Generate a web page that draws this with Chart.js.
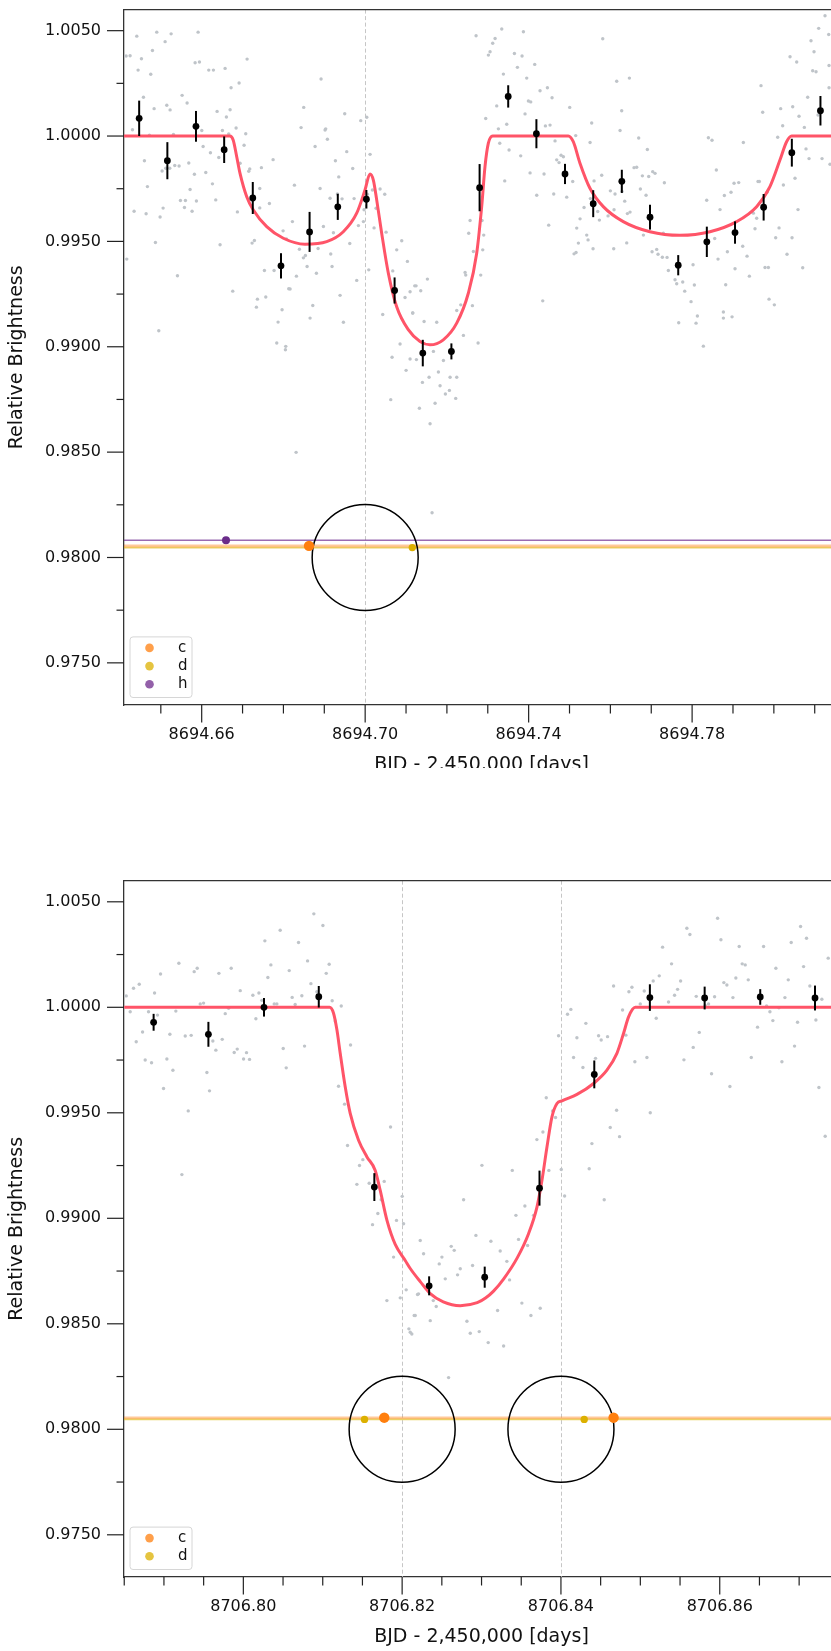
<!DOCTYPE html>
<html>
<head>
<meta charset="utf-8">
<script src="https://cdn.jsdelivr.net/npm/chart.js@4.4.1/dist/chart.umd.min.js"></script>
<style>
  html, body { margin: 0; padding: 0; background: #fff; overflow: hidden; }
  #page { position: relative; width: 831px; height: 1651px; overflow: hidden; }
  #topWrap { position: absolute; left: 0; top: 0; width: 831px; height: 768px; overflow: hidden; }
  #bottomWrap { position: absolute; left: 0; top: 860px; width: 831px; height: 791px; overflow: hidden; }
  canvas { display: block; }
</style>
</head>
<body>
<div id="page">
  <div id="topWrap"><canvas id="topChart" width="850" height="779"></canvas></div>
  <div id="bottomWrap"><canvas id="bottomChart" width="850" height="791"></canvas></div>
</div>
<script>
// ---- axes ----
const Y_MIN = 0.9730, Y_MAX = 1.0060;
const yMajorTicks = [0.975, 0.980, 0.985, 0.990, 0.995, 1.000, 1.005];
const yMinorTicks = [0.9775, 0.9825, 0.9875, 0.9925, 0.9975, 1.0025];

const topXRange = [8694.64099, 8694.81594];
const topXMajorTicks = [8694.66, 8694.70, 8694.74, 8694.78];
const topXMinorTicks = [8694.65, 8694.67, 8694.68, 8694.69, 8694.71, 8694.72, 8694.73,
                        8694.75, 8694.76, 8694.77, 8694.79, 8694.80, 8694.81];

const bottomXRange = [8706.78497, 8706.87502];
const bottomXMajorTicks = [8706.80, 8706.82, 8706.84, 8706.86];
const bottomXMinorTicks = [8706.785, 8706.79, 8706.795, 8706.805, 8706.81, 8706.815, 8706.825,
                           8706.83, 8706.835, 8706.845, 8706.85, 8706.855, 8706.865, 8706.87];

// ---- planets ----
const planetLevel = { c: 0.98055, d: 0.98047, h: 0.98082 };
const planetColor = { c: '#ff7f0e', d: '#dcb000', h: '#6a2c8a' };
const planetLegendColor = { c: '#ff9f4a', d: '#e5c440', h: '#9360a9' };
const planetRadius = { c: 5.2, d: 3.7, h: 4 };
const topPlanetTimes = { c: [8694.68626], d: [8694.71153], h: [8694.66595] };
const bottomPlanetTimes = { c: [8706.81775, 8706.84663], d: [8706.81526, 8706.84293] };

// mid-transit markers (dashed line + stellar disc outline)
const STAR_LEVEL = 0.9800;
const topMidTimes = [8694.70];
const bottomMidTimes = [8706.82, 8706.84];

// ---- 10-minute bins ----
const topBinTimes = [8694.6447, 8694.6516, 8694.6586, 8694.6655, 8694.6725, 8694.6794, 8694.6864,
  8694.6933, 8694.7003, 8694.7072, 8694.7141, 8694.7211, 8694.7280, 8694.7350, 8694.7419, 8694.7489,
  8694.7558, 8694.7628, 8694.7697, 8694.7766, 8694.7836, 8694.7905, 8694.7975, 8694.8044, 8694.8114];
const topBinFlux = [1.00084, 0.99883, 1.00046, 0.99935, 0.99706, 0.99384, 0.99545, 0.99664, 0.99700,
  0.99267, 0.98970, 0.98978, 0.99755, 1.00188, 1.00011, 0.99820, 0.99679, 0.99785, 0.99615, 0.99387,
  0.99498, 0.99542, 0.99662, 0.99921, 1.00120];
const topBinErr = [0.00084, 0.00088, 0.00073, 0.00063, 0.00076, 0.00060, 0.00095, 0.00062, 0.00044,
  0.00062, 0.00063, 0.00038, 0.00112, 0.00053, 0.00069, 0.00048, 0.00064, 0.00055, 0.00059, 0.00048,
  0.00072, 0.00053, 0.00063, 0.00066, 0.00070];

const bottomBinTimes = [8706.7887, 8706.7956, 8706.8026, 8706.8095, 8706.8165, 8706.8234, 8706.8304,
  8706.8373, 8706.8442, 8706.8512, 8706.8581, 8706.8651, 8706.8720];
const bottomBinFlux = [0.99929, 0.99872, 1.00000, 1.00050, 0.99148, 0.98680, 0.98721, 0.99143,
  0.99682, 1.00046, 1.00044, 1.00049, 1.00044];
const bottomBinErr = [0.00040, 0.00059, 0.00044, 0.00051, 0.00066, 0.00045, 0.00050, 0.00083,
  0.00066, 0.00063, 0.00054, 0.00037, 0.00059];

// ---- transit models [time, flux] ----
const topModel = [[8694.6410, 1.0], [8694.6669, 1.0], [8694.6677, 0.99981], [8694.66857, 0.99902],
  [8694.66938, 0.99823], [8694.67102, 0.99712], [8694.67263, 0.99649], [8694.67591, 0.99570],
  [8694.67998, 0.99515], [8694.68528, 0.99487], [8694.69059, 0.99499], [8694.69465, 0.99546],
  [8694.69793, 0.99634], [8694.69996, 0.99744], [8694.70118, 0.99820], [8694.70200, 0.99791],
  [8694.70282, 0.99697], [8694.70404, 0.99539], [8694.70567, 0.99349], [8694.70769, 0.99191],
  [8694.71055, 0.99081], [8694.71342, 0.99025], [8694.71586, 0.99009], [8694.71912, 0.99033],
  [8694.72240, 0.99112], [8694.72524, 0.99254], [8694.72729, 0.99444], [8694.72851, 0.99665],
  [8694.72932, 0.99855], [8694.73013, 0.99965], [8694.7312, 1.0], [8694.7497, 1.0],
  [8694.75092, 0.99973], [8694.75256, 0.99871], [8694.75500, 0.99752], [8694.75826, 0.99665],
  [8694.76315, 0.99594], [8694.76968, 0.99546], [8694.77702, 0.99529], [8694.78436, 0.99546],
  [8694.79089, 0.99594], [8694.79578, 0.99665], [8694.79904, 0.99760], [8694.80149, 0.99886],
  [8694.80312, 0.99973], [8694.80435, 1.0], [8694.8160, 1.0]];

const bottomModel = [[8706.785, 1.0], [8706.81086, 1.0], [8706.81136, 0.99972], [8706.81179, 0.99892],
  [8706.81220, 0.99782], [8706.81283, 0.99623], [8706.81346, 0.99497], [8706.81451, 0.99370],
  [8706.81557, 0.99291], [8706.81661, 0.99227], [8706.81724, 0.99132], [8706.81809, 0.98990],
  [8706.81913, 0.98876], [8706.82039, 0.98800], [8706.82102, 0.98762], [8706.82228, 0.98700],
  [8706.82354, 0.98643], [8706.82518, 0.98604], [8706.82732, 0.98586], [8706.82946, 0.98600],
  [8706.83050, 0.98622], [8706.83151, 0.98655], [8706.83277, 0.98712], [8706.83446, 0.98810],
  [8706.83592, 0.98927], [8706.83698, 0.99053], [8706.83761, 0.99180], [8706.83824, 0.99338],
  [8706.83887, 0.99481], [8706.83950, 0.99544], [8706.84013, 0.99557], [8706.84202, 0.99587],
  [8706.84411, 0.99639], [8706.84579, 0.99702], [8706.84705, 0.99782], [8706.84789, 0.99877],
  [8706.84852, 0.99955], [8706.84936, 1.0], [8706.8755, 1.0]];

// ---- unbinned photometry, [days after T0, flux] ----
const TOP_T0 = 8694.6;
const topRaw = [
  [0.04151,1.00380],[0.04248,1.00381],[0.04412,1.00474],[0.04444,1.00313],[0.04526,1.00367],[0.04575,1.00184],
  [0.04795,1.00406],[0.04901,1.00493],[0.04754,1.00293],[0.05105,1.00448],[0.05146,1.00146],[0.05252,1.00485],
  [0.05227,1.00124],[0.05309,1.00007],[0.05521,1.00193],[0.05643,1.00157],[0.05839,1.00348],[0.05945,1.00351],
  [0.05912,1.00493],[0.06173,1.00313],[0.06287,1.00313],[0.06573,1.00321],[0.06719,1.00229],[0.06915,1.00252],
  [0.07111,1.00365],
  [0.04167,0.99416],[0.04306,1.00030],[0.04346,0.99643],[0.04599,0.99883],[0.04672,0.99760],[0.04640,0.99631],
  [0.04721,1.00004],[0.04836,1.00130],[0.04868,0.99495],[0.04950,0.99076],[0.04982,0.99616],[0.05056,0.99658],
  [0.05031,0.99834],[0.05121,0.99847],[0.05219,0.99847],[0.05341,0.99860],[0.05407,0.99337],[0.05447,0.99858],
  [0.05578,0.99661],[0.05480,0.99694],[0.05602,0.99694],[0.05716,0.99746],[0.05684,0.99872],[0.05765,0.99643],
  [0.05871,0.99692],[0.05822,0.99819],[0.06002,1.00026],[0.06035,0.99950],[0.06100,0.99827],[0.06214,0.99921],
  [0.06263,0.99773],[0.06344,0.99697],[0.06377,1.00117],[0.06450,0.99484],[0.06418,0.99898],[0.06605,1.00090],
  [0.06695,1.00125],[0.06507,1.00026],[0.06662,1.00010],[0.06760,0.99264],[0.06842,1.00038],[0.06874,0.99640],
  [0.06940,0.99871],[0.07037,0.99956],[0.07078,1.00011],[0.07176,0.99844],[0.07152,0.99833],[0.07233,0.99492],
  [0.07290,0.99504],[0.07339,0.99188],[0.07364,0.99226],[0.07421,0.99751],[0.07461,0.99850],[0.07421,0.99659],
  [0.07535,0.99362],[0.07568,0.99236],[0.07657,0.99680],[0.07747,0.99888],[0.07771,0.99362],[0.07869,0.99117],
  [0.07967,0.99176],[0.07992,0.99550],[0.08057,0.99002],[0.07837,0.99018],[0.08049,0.98986],[0.08073,0.99512],
  [0.08220,0.99594],[0.08130,0.99275],[0.08163,0.99274],[0.08269,0.99767],[0.08318,0.99335],[0.08391,0.99463],
  [0.08432,1.00040],[0.08497,1.00136],[0.08489,0.99422],[0.08538,0.99433],[0.08579,0.99381],[0.08652,0.99136],
  [0.08718,0.99196],[0.08775,0.99950],[0.08807,0.99349],[0.08848,0.99466],[0.08921,1.00271],[0.08897,0.99751],
  [0.08978,0.99571],[0.09019,1.00029],[0.09035,1.00034],[0.09076,0.99985],[0.09141,0.99705],[0.09190,0.99381],
  [0.09223,0.99541],[0.09158,0.99440],[0.09272,0.99883],[0.09321,0.99725],[0.09354,0.99806],[0.09386,0.99244],
  [0.09435,0.99702],[0.09468,0.99116],[0.09500,1.00106],[0.09549,0.99926],[0.09623,0.99490],[0.09696,0.99846],
  [0.09729,0.99703],[0.09794,0.99315],[0.09835,0.99575],[0.09892,1.00073],[0.09957,0.99594],[0.09973,0.99650],
  [0.10039,1.00089],[0.10055,0.99724],[0.10088,0.99365],[0.10120,0.99913],[0.10177,0.99744],[0.10218,0.99564],
  [0.10267,0.99657],[0.10365,0.99749],[0.10479,0.99724],[0.10512,0.99544],[0.10430,0.99153],[0.10658,0.98950],
  [0.10675,0.99360],[0.10772,0.99460],[0.10854,0.99013],[0.10895,0.99503],[0.10976,0.99234],[0.11033,0.99405],
  [0.11099,0.99261],[0.11001,0.98888],[0.11164,0.99160],[0.11245,0.99289],[0.10626,0.98749],
  [0.08310,0.98499],[0.11588,0.98635],[0.11637,0.98212],
  [0.12714,1.00476],[0.13056,1.00400],[0.13015,1.00384],[0.13121,1.00440],[0.13179,1.00463],[0.13342,1.00508],
  [0.13872,1.00495],[0.13652,1.00392],[0.13725,1.00326],[0.13839,1.00380],[0.13382,1.00294],[0.14149,1.00340],
  [0.13953,1.00275],[0.14279,1.00215],[0.14459,1.00229],[0.14573,1.00182],[0.13994,1.00166],[0.14051,1.00162],
  [0.13219,1.00143],[0.12950,1.00083],[0.13260,1.00034],[0.13464,1.00056],[0.13521,0.99934],[0.13293,0.99966],
  [0.13806,0.99906],[0.13912,1.00105],[0.14410,1.00048],[0.14524,1.00052],[0.15005,1.00136],[0.15152,1.00002],
  [0.14646,0.99977],[0.14687,0.99887],[0.14793,0.99909],[0.14850,0.99902],[0.14744,0.99874],[0.15079,0.99784],
  [0.14932,0.99710],[0.14198,0.99719],[0.14035,0.99825],[0.14377,0.99820],[0.14614,0.99725],[0.14491,0.99577],
  [0.13415,0.99787],[0.12860,0.99599],[0.12567,0.99599],[0.12534,0.99539],[0.12648,0.99452],[0.12901,0.99530],
  [0.12877,0.99460],[0.12828,0.99340],[0.12461,0.99340],[0.12445,0.99353],[0.12624,0.99195],[0.12339,0.99199],
  [0.12241,0.99172],[0.11751,0.99116],[0.11442,0.99120],[0.11213,0.99289],[0.11360,0.99266],[0.11523,0.99321],
  [0.11164,0.99160],[0.11099,0.98942],[0.11254,0.98939],[0.11670,0.98978],[0.11915,0.98935],[0.11792,0.98880],
  [0.12078,0.98855],[0.12241,0.98855],[0.12404,0.99054],[0.12763,0.99018],[0.11564,0.98855],[0.11401,0.98831],
  [0.11833,0.98815],[0.12061,0.98793],[0.12216,0.98755],[0.11963,0.98776],[0.11327,0.98708],[0.11711,0.98732],
  [0.14345,0.99218],[0.15503,0.99969],[0.15543,1.00062],[0.15813,1.00462],[0.16155,1.00260],[0.16465,1.00275],
  [0.15788,0.99814],[0.15601,0.99787],[0.16000,0.99740],[0.16114,0.99725],[0.16286,0.99737],[0.16237,1.00026],
  [0.16277,1.00120],[0.16579,0.99850],[0.16644,0.99852],[0.16783,0.99811],[0.16905,0.99936],[0.16693,0.99991],
  [0.17036,0.99831],[0.16938,0.99808],[0.17093,0.99823],[0.17321,0.99778],[0.16734,0.99749],[0.16873,0.99719],
  [0.16351,0.99691],[0.16481,0.99639],[0.16416,0.99632],[0.16090,0.99650],[0.15731,0.99601],[0.15943,0.99621],
  [0.15690,0.99642],[0.15511,0.99703],[0.15356,0.99661],[0.15258,0.99607],[0.15177,0.99563],[0.15217,0.99492],
  [0.15421,0.99530],[0.15454,0.99507],[0.15576,0.99465],[0.15111,0.99441],[0.15160,0.99447],[0.16082,0.99465],
  [0.16400,0.99493],[0.16808,0.99530],[0.17134,0.99462],[0.17020,0.99451],[0.17166,0.99439],[0.17272,0.99425],
  [0.17387,0.99424],[0.17419,0.99362],[0.17582,0.99318],[0.17623,0.99299],[0.17297,0.99539],[0.17770,0.99307],
  [0.17819,0.99264],[0.17672,0.99114],[0.17974,0.99214],[0.18055,0.99293],[0.18129,0.99146],[0.18096,0.99112],
  [0.18275,0.99003],[0.18023,0.99389],[0.18357,0.99695],[0.18398,0.99992],[0.18487,0.99980],[0.18593,0.99839],
  [0.18789,0.99718],[0.18952,0.99733],[0.19026,0.99776],[0.19140,0.99779],[0.18683,0.99651],[0.18553,0.99514],
  [0.18765,0.99165],[0.18765,0.99136],[0.18977,0.99142],[0.18822,0.99294],[0.18634,0.99416],[0.18863,0.99451],
  [0.19050,0.99370],[0.19238,0.99477],[0.19344,0.99430],[0.19401,0.99335],[0.19784,0.99376],[0.19866,0.99376],
  [0.19882,0.99226],[0.20012,0.99199],[0.19499,0.99634],[0.19539,0.99560],[0.19613,0.99784],[0.19645,0.99784],
  [0.19580,0.99610],[0.19833,0.99733],[0.20045,0.99517],[0.20127,0.99564],[0.20233,0.99768],[0.20322,0.99439],
  [0.20445,0.99517],[0.20591,0.99651],[0.20706,0.99375],[0.20518,0.99800],[0.20616,1.00094],[0.20461,1.00139],
  [0.20746,1.00041],[0.20828,1.00184],[0.20396,1.00376],[0.20559,1.00351],[0.20167,1.00130],[0.20216,1.00049],
  [0.20094,0.99994],[0.19727,1.00113],[0.19686,1.00239],[0.19254,0.99969],[0.20950,1.00310],[0.21032,1.00305],
  [0.20909,1.00452],[0.20983,1.00400],[0.21097,1.00511],[0.21252,1.00571],[0.21342,1.00482],[0.21146,1.00111],
  [0.20787,0.99939],[0.20861,0.99893],[0.21179,0.99893],[0.21374,0.99866],[0.21081,1.00100],[0.21350,1.00335],
  [0.21350,1.00229]
];

const BOTTOM_T0 = 8706.78;
const bottomRaw = [
  [0.00525,1.00054],[0.00575,0.99979],[0.00617,1.00090],[0.00651,0.99837],[0.00689,1.00109],[0.00731,0.99883],
  [0.00764,0.99750],[0.00806,0.99979],[0.00844,0.99737],[0.00882,1.00068],[0.00919,0.99963],[0.00957,1.00158],
  [0.00995,0.99615],[0.01037,0.99755],[0.01075,0.99872],[0.01113,0.99702],[0.01150,0.99982],[0.01188,1.00209],
  [0.01226,0.99207],[0.01268,0.99864],[0.01306,0.99509],[0.01343,0.99867],[0.01381,1.00169],[0.01419,1.00185],
  [0.01457,1.00016],[0.01499,1.00020],[0.01541,0.99691],[0.01574,0.99604],[0.01616,0.99840],[0.01654,0.99797],
  [0.01692,1.00161],[0.01734,0.99848],[0.01772,0.99970],[0.01814,0.99995],[0.01847,1.00185],[0.01885,0.99786],
  [0.01923,0.99802],[0.01961,1.00079],[0.02003,0.99755],[0.02040,0.99785],[0.02078,0.99753],[0.02120,1.00057],
  [0.02158,0.99946],[0.02196,1.00068],[0.02233,1.00033],[0.02271,1.00315],[0.02309,1.00141],[0.02347,1.00201],
  [0.02389,1.00016],[0.02422,1.00016],[0.02464,1.00365],[0.02502,0.99805],[0.02540,0.99713],[0.02578,1.00174],
  [0.02615,1.00047],[0.02653,1.00013],[0.02695,1.00307],[0.02737,1.00055],[0.02771,0.99816],[0.02809,1.00220],
  [0.02851,1.00112],[0.02888,1.00443],[0.02926,1.00074],[0.03002,1.00388],[0.03044,1.00161],[0.03081,1.00204],
  [0.03119,1.00031],[0.03157,0.99935],[0.03199,0.99626],[0.03233,1.00006],[0.03275,0.99541],[0.03312,0.99345],
  [0.03350,0.99821],[0.03463,0.99250],[0.03505,0.99278],[0.03430,0.99161],[0.03585,0.99166],[0.03627,0.98970],
  [0.03694,0.99023],[0.03736,0.99088],[0.03774,0.99175],[0.03854,0.99433],[0.03892,0.98816],[0.03929,0.98990],
  [0.04001,0.99104],[0.04018,0.98974],
  [0.03808,0.98610],[0.03976,0.98623],[0.04051,0.98661],[0.04165,0.98539],[0.04085,0.98476],[0.04122,0.98452],
  [0.04207,0.98642],
  [0.04228,0.98895],[0.04270,0.98832],[0.04467,0.98784],[0.04501,0.98816],[0.04543,0.98713],[0.04618,0.98867],
  [0.04656,0.98848],[0.04698,0.98732],[0.04732,0.98761],[0.04774,0.99088],[0.04887,0.98776],[0.04929,0.98919],
  [0.05005,0.99251],[0.05118,0.98891],[0.05235,0.98845],[0.05319,0.98796],[0.05387,0.99227],[0.05433,0.99014],
  [0.05466,0.98900],[0.05546,0.99058],[0.05580,0.98871],[0.05655,0.99014],[0.05697,0.99373],[0.05773,0.99409],
  [0.05815,0.99571],[0.05848,0.99227],[0.05895,0.99509],[0.05932,0.99478],[0.05970,0.99865],[0.06004,0.99231],
  [0.06046,0.99106],[0.06083,0.99967],[0.06125,0.99990],[0.06159,0.99762],[0.06201,0.99856],[0.06277,0.99715],
  [0.06314,0.99924],[0.06356,0.99235],[0.06390,0.99354],[0.06436,0.99758],[0.06474,0.99865],[0.06507,0.99845],
  [0.06545,0.99088],[0.06587,0.99861],[0.06621,0.99430],[0.06663,1.00101],[0.06701,0.99512],[0.06738,0.99387],
  [0.06776,0.99987],[0.06818,0.99868],[0.06856,1.00074],[0.06894,1.00095],[0.06931,0.99742],[0.06999,1.00016],
  [0.07049,1.00077],[0.07083,0.99762],[0.07125,0.99500],[0.07162,1.00125],[0.07200,0.99948],[0.07238,1.00149],
  [0.07280,1.00285],[0.07355,1.00025],[0.07393,1.00206],[0.07431,1.00057],[0.07469,1.00085],[0.07507,1.00125],
  [0.07549,0.99751],[0.07586,1.00375],[0.07624,1.00345],[0.07666,0.99810],[0.07704,1.00052],[0.07742,0.99881],
  [0.07817,1.00009],[0.07859,1.00016],[0.07897,0.99685],[0.07935,1.00050],[0.07973,1.00422],[0.08015,1.00320],
  [0.08052,1.00117],[0.08090,1.00106],[0.08128,0.99625],[0.08166,1.00046],[0.08203,1.00139],[0.08245,1.00288],
  [0.08283,1.00206],[0.08321,1.00201],[0.08359,1.00130],[0.08397,0.99762],[0.08476,0.99906],[0.08552,1.00288],
  [0.08590,1.00006],[0.08632,0.99979],[0.08669,0.99937],[0.08707,1.00185],[0.08745,0.99998],[0.08783,0.99742],
  [0.08821,1.00046],[0.08863,1.00130],[0.08900,1.00307],[0.08942,0.99816],[0.08980,0.99929],[0.09018,1.00383],
  [0.09056,1.00193],[0.09093,1.00327],[0.09135,1.00101],[0.09211,0.99940],[0.09249,0.99620],[0.09286,1.00038],
  [0.09328,0.99389],[0.09366,1.00233],
  [0.04194,0.98639],[0.04152,0.98539],[0.04102,0.98460],[0.04354,0.98515],[0.04429,0.98582],[0.04816,0.98512],
  [0.04858,0.98455],[0.04971,0.98463],[0.05084,0.98411],[0.05202,0.98563],[0.05278,0.98395],[0.05353,0.98708],
  [0.05508,0.98598],[0.05622,0.98539],[0.05739,0.98574],[0.04585,0.98245],[0.04392,0.98610]
];

Chart.defaults.font.family = "'DejaVu Sans', sans-serif";
Chart.defaults.color = '#111';

const near = (list, v) => list.some(m => Math.abs(m - v) < 1e-7);

// dashed mid-transit lines, error bars, spines, tick marks, legend
const lcDecor = {
  id: 'lcDecor',
  beforeDatasetsDraw(chart, args, o) {
    const { ctx, chartArea: a, scales: { x } } = chart;
    ctx.save();
    ctx.strokeStyle = '#c6c6c6';
    ctx.lineWidth = 1;
    ctx.setLineDash([4, 2.5]);
    o.midTimes.forEach(t => {
      const px = Math.round(x.getPixelForValue(t)) + 0.5;
      ctx.beginPath(); ctx.moveTo(px, a.top); ctx.lineTo(px, a.bottom); ctx.stroke();
    });
    ctx.restore();
  },
  afterDatasetsDraw(chart) {
    const { ctx, scales: { y } } = chart;
    const ds = chart.data.datasets[0];
    const meta = chart.getDatasetMeta(0);
    ctx.save();
    ctx.strokeStyle = '#000';
    ctx.lineWidth = 2;
    meta.data.forEach((pt, i) => {
      const v = ds.data[i].y, e = ds.errors[i];
      ctx.beginPath();
      ctx.moveTo(pt.x, y.getPixelForValue(v + e));
      ctx.lineTo(pt.x, y.getPixelForValue(v - e));
      ctx.stroke();
    });
    ctx.restore();
  },
  afterDraw(chart, args, o) {
    const { ctx, chartArea: a, scales: { x, y } } = chart;
    ctx.save();
    ctx.strokeStyle = '#333';
    ctx.lineWidth = 1.3;
    ctx.beginPath();
    ctx.moveTo(a.left, a.top); ctx.lineTo(a.right, a.top); ctx.lineTo(a.right, a.bottom);
    ctx.stroke();

    ctx.strokeStyle = '#222';
    ctx.lineWidth = 1.2;
    x.ticks.forEach(t => {
      const px = x.getPixelForValue(t.value);
      const len = near(o.xMajor, t.value) ? 17.5 : 8.5;
      ctx.beginPath(); ctx.moveTo(px, a.bottom); ctx.lineTo(px, a.bottom + len); ctx.stroke();
    });
    y.ticks.forEach(t => {
      const py = y.getPixelForValue(t.value);
      const len = near(yMajorTicks, t.value) ? 17 : 7.5;
      ctx.beginPath(); ctx.moveTo(a.left, py); ctx.lineTo(a.left - len, py); ctx.stroke();
    });

    // legend box, lower left corner of the plot
    const rowH = 18.2;
    const w = 62, h = o.legend.length * rowH + 6;
    const left = a.left + 6, top = a.bottom - 7.5 - h;
    ctx.beginPath();
    ctx.roundRect(left, top, w, h, 3);
    ctx.fillStyle = 'rgba(255,255,255,0.85)';
    ctx.fill();
    ctx.strokeStyle = '#d6d6d6';
    ctx.lineWidth = 1;
    ctx.stroke();
    ctx.font = "15px 'DejaVu Sans'";
    ctx.textBaseline = 'middle';
    ctx.textAlign = 'left';
    o.legend.forEach((k, i) => {
      const cy = top + 11 + i * rowH;
      ctx.beginPath();
      ctx.arc(left + 19.5, cy, 4.3, 0, Math.PI * 2);
      ctx.fillStyle = planetLegendColor[k];
      ctx.fill();
      ctx.fillStyle = '#111';
      ctx.fillText(k, left + 48, cy);
    });
    ctx.restore();
  }
};

function buildChart(canvasId, cfg) {
  const [xMin, xMax] = cfg.xRange;
  const datasets = [
    {
      data: cfg.binTimes.map((t, i) => ({ x: t, y: cfg.binFlux[i] })),
      errors: cfg.binErr,
      backgroundColor: '#000', borderWidth: 0, pointRadius: 3.4, order: 1
    },
    {
      data: cfg.model.map(p => ({ x: p[0], y: p[1] })),
      showLine: true, borderColor: '#ff5468', borderWidth: 3, pointRadius: 0,
      cubicInterpolationMode: 'monotone', order: 2
    }
  ];

  // planet positions on the stellar disc
  Object.keys(cfg.planetTimes).forEach(k => {
    datasets.push({
      data: cfg.planetTimes[k].map(t => ({ x: t, y: planetLevel[k] })),
      backgroundColor: planetColor[k], borderWidth: 0, pointRadius: planetRadius[k], order: 3
    });
  });

  datasets.push({
    data: cfg.midTimes.map(t => ({ x: t, y: STAR_LEVEL })),
    backgroundColor: 'rgba(0,0,0,0)', borderColor: '#000', borderWidth: 1.5,
    pointRadius: 53, order: 4
  });

  // orbital tracks
  const trackStyle = {
    c: { color: 'rgba(255,127,14,0.42)', width: 2.6 },
    d: { color: 'rgba(222,178,0,0.6)', width: 1.8 },
    h: { color: 'rgba(115,50,148,0.72)', width: 1.4 }
  };
  Object.keys(cfg.planetTimes).forEach(k => {
    datasets.push({
      data: [{ x: xMin, y: planetLevel[k] }, { x: xMax, y: planetLevel[k] }],
      showLine: true, borderColor: trackStyle[k].color, borderWidth: trackStyle[k].width,
      pointRadius: 0, order: 5
    });
  });

  datasets.push({
    data: cfg.raw.map(p => ({ x: cfg.t0 + p[0], y: p[1] })),
    backgroundColor: '#bfc4c9', borderWidth: 0, pointRadius: 1.7, order: 10
  });

  const xTicks = cfg.xMajor.concat(cfg.xMinor).sort((a, b) => a - b);
  const yTicks = yMajorTicks.concat(yMinorTicks).sort((a, b) => a - b);

  return new Chart(document.getElementById(canvasId), {
    type: 'scatter',
    data: { datasets },
    options: {
      responsive: false,
      animation: false,
      events: [],
      devicePixelRatio: 1,
      layout: { autoPadding: false, padding: { top: cfg.padTop, right: 11, left: 0, bottom: 0 } },
      scales: {
        x: {
          type: 'linear', min: xMin, max: xMax,
          afterBuildTicks: s => { s.ticks = xTicks.map(v => ({ value: v })); },
          afterFit: s => { s.height = 74; },
          ticks: {
            autoSkip: false, maxRotation: 0, minRotation: 0, padding: 3,
            font: { size: 16 }, color: '#111',
            callback: v => near(cfg.xMajor, v) ? v.toFixed(2) : ''
          },
          grid: { display: true, drawOnChartArea: false, drawTicks: true, tickLength: 17, tickColor: 'rgba(0,0,0,0)' },
          border: { display: true, color: '#333', width: 1.3 },
          title: { display: true, text: 'BJD - 2,450,000 [days]', font: { size: 19 }, color: '#111', padding: { top: 0, bottom: 3 } }
        },
        y: {
          type: 'linear', min: Y_MIN, max: Y_MAX,
          afterBuildTicks: s => { s.ticks = yTicks.map(v => ({ value: v })); },
          afterFit: s => { s.width = 124; },
          ticks: {
            autoSkip: false, padding: 0, font: { size: 16 }, color: '#111',
            callback: v => near(yMajorTicks, v) ? v.toFixed(4) : ''
          },
          grid: { display: true, drawOnChartArea: false, drawTicks: true, tickLength: 23, tickColor: 'rgba(0,0,0,0)' },
          border: { display: true, color: '#333', width: 1.3 },
          title: { display: true, text: 'Relative Brightness', font: { size: 19 }, color: '#111', padding: { top: 6, bottom: 0 } }
        }
      },
      plugins: {
        legend: { display: false },
        tooltip: { enabled: false },
        lcDecor: { midTimes: cfg.midTimes, xMajor: cfg.xMajor, legend: Object.keys(cfg.planetTimes) }
      }
    },
    plugins: [lcDecor]
  });
}

buildChart('topChart', {
  xRange: topXRange, xMajor: topXMajorTicks, xMinor: topXMinorTicks, padTop: 9.5,
  binTimes: topBinTimes, binFlux: topBinFlux, binErr: topBinErr,
  model: topModel, raw: topRaw, t0: TOP_T0,
  planetTimes: topPlanetTimes, midTimes: topMidTimes
});

buildChart('bottomChart', {
  xRange: bottomXRange, xMajor: bottomXMajorTicks, xMinor: bottomXMinorTicks, padTop: 20.7,
  binTimes: bottomBinTimes, binFlux: bottomBinFlux, binErr: bottomBinErr,
  model: bottomModel, raw: bottomRaw, t0: BOTTOM_T0,
  planetTimes: bottomPlanetTimes, midTimes: bottomMidTimes
});
</script>
</body>
</html>
